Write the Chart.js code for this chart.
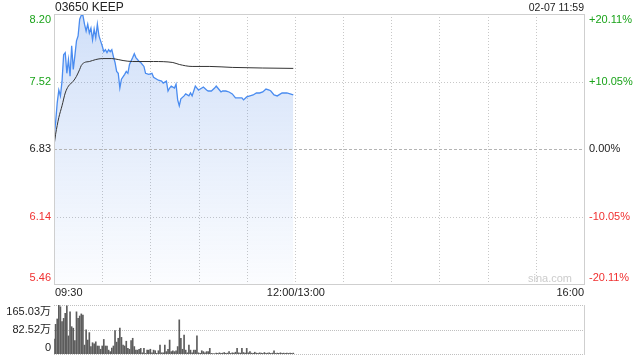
<!DOCTYPE html>
<html>
<head>
<meta charset="utf-8">
<script src="https://cdn.jsdelivr.net/npm/chart.js@4.4.1/dist/chart.umd.min.js"></script>
<style>
html, body { margin: 0; padding: 0; background: #fff; }
#wrap { position: relative; width: 640px; height: 360px; }
#priceChart { position: absolute; left: 0; top: 0; }
#volChart { position: absolute; left: 0; top: 300px; }
</style>
</head>
<body>
<div id="wrap">
  <canvas id="priceChart" width="640" height="300"></canvas>
  <canvas id="volChart" width="640" height="60"></canvas>
</div>
<script>
const title = '03650 KEEP';
const stamp = '02-07 11:59';
const prevClose = 6.83;
const limitPct = 20.11;
const timeLabels = ['09:30', '12:00/13:00', '16:00'];

const priceTimes = ['09:30','09:31','09:32','09:33','09:34','09:35','09:36','09:37','09:38','09:39',
  '09:40','09:41','09:42','09:43','09:44','09:45','09:46','09:47','09:48','09:49',
  '09:50','09:51','09:52','09:53','09:54','09:55','09:56','09:57','09:58','09:59',
  '10:00','10:01','10:02','10:03','10:04','10:05','10:06','10:07','10:08','10:09',
  '10:10','10:11','10:12','10:14','10:15','10:16','10:17','10:19','10:20','10:21',
  '10:23','10:24','10:26','10:27','10:29','10:31','10:32','10:34','10:35','10:37',
  '10:38','10:40','10:41','10:42','10:43','10:45','10:46','10:47','10:48','10:49',
  '10:51','10:52','10:54','10:55','10:56','10:58','10:59','11:00','11:02','11:03',
  '11:05','11:06','11:08','11:10','11:11','11:13','11:14','11:15','11:17','11:19',
  '11:21','11:23','11:25','11:27','11:28','11:30','11:32','11:34','11:36','11:38',
  '11:40','11:42','11:44','11:45','11:47','11:49','11:52','11:55','11:57','11:59'];
const prices = [6.96,7.10,7.30,7.43,7.37,7.52,7.79,7.81,7.60,7.74,
  7.57,7.88,7.64,7.78,7.93,7.98,8.15,8.19,8.19,8.10,
  8.03,8.10,8.01,8.06,7.94,8.05,7.96,8.10,7.98,7.93,
  7.88,7.82,7.84,7.81,7.84,7.82,7.84,7.77,7.71,7.62,
  7.60,7.45,7.54,7.59,7.62,7.60,7.69,7.76,7.80,7.76,
  7.72,7.71,7.67,7.60,7.59,7.60,7.56,7.54,7.53,7.52,
  7.50,7.52,7.42,7.45,7.47,7.45,7.49,7.33,7.27,7.34,
  7.37,7.39,7.37,7.40,7.37,7.47,7.45,7.43,7.45,7.46,
  7.43,7.42,7.42,7.45,7.47,7.43,7.41,7.42,7.42,7.41,
  7.39,7.35,7.35,7.35,7.33,7.36,7.37,7.38,7.40,7.40,
  7.41,7.44,7.43,7.42,7.38,7.37,7.40,7.40,7.39,7.38];

const avgTimes = ['09:30','09:31','09:32','09:33','09:35','09:37','09:39','09:42','09:44','09:46',
  '09:47','09:49','09:52','09:56','10:00','10:06','10:10','10:13','10:19','10:32',
  '10:44','10:48','10:56','11:07','11:21','11:59'];
const avgPrices = [6.86,6.98,7.07,7.15,7.27,7.40,7.47,7.52,7.57,7.64,
  7.68,7.71,7.72,7.74,7.75,7.75,7.74,7.73,7.72,7.72,
  7.71,7.69,7.67,7.67,7.66,7.65];

// volume per minute from 09:30, in 万
const volumes = [50,100,118,165.03,159,109,120,137,162,61,
  142,92,87,45,142,120,128,135,131,30,
  81,47,72,25,38,34,41,27,27,16,
  27,49,27,27,13,8,20,27,79,40,
  53,87,56,30,27,43,19,16,45,53,
  25,13,13,16,19,4,19,2,13,13,
  16,4,13,11,2,11,30,4,4,30,
  8,16,47,8,11,8,11,25,115,53,
  16,64,13,4,30,13,4,13,13,61,
  4,2,11,8,4,8,8,19,2,1,
  1,3,2,4,2,3,5,2,3,8,
  2,4,3,6,19,4,3,19,5,3,
  19,4,8,3,2,6,3,2,4,3,
  2,5,2,3,4,2,3,11,2,3,
  2,4,2,3,2,3,2,3,2,3];
const volMax = 165.03;

const FONT = '"Liberation Sans", Arial, "Noto Sans CJK SC", sans-serif';
const GREEN = '#1aa31a';
const RED = '#f03030';

function toMin(t) {
  const [h, m] = t.split(':').map(Number);
  const mins = h * 60 + m;
  return mins <= 720 ? mins - 570 : mins - 780 + 150;
}

const limitUp = prevClose * (1 + limitPct / 100);
const limitDown = prevClose * (1 - limitPct / 100);
const priceTicks = [limitUp, (limitUp + prevClose) / 2, prevClose, (limitDown + prevClose) / 2, limitDown];
const pctTicks = ['+20.11%', '+10.05%', '0.00%', '-10.05%', '-20.11%'];
const tickColors = [GREEN, GREEN, '#222', RED, RED];

function hline(ctx, x1, x2, y, color, dash) {
  ctx.save();
  ctx.strokeStyle = color;
  ctx.lineWidth = 1;
  ctx.setLineDash(dash);
  ctx.beginPath();
  ctx.moveTo(x1, Math.round(y) + 0.5);
  ctx.lineTo(x2, Math.round(y) + 0.5);
  ctx.stroke();
  ctx.restore();
}
function vline(ctx, x, y1, y2, color, dash) {
  ctx.save();
  ctx.strokeStyle = color;
  ctx.lineWidth = 1;
  ctx.setLineDash(dash);
  ctx.beginPath();
  ctx.moveTo(Math.round(x) + 0.5, y1);
  ctx.lineTo(Math.round(x) + 0.5, y2);
  ctx.stroke();
  ctx.restore();
}

const priceGrid = {
  id: 'priceGrid',
  beforeDatasetsDraw(chart) {
    const { ctx, chartArea: a, scales } = chart;
    for (let m = 30; m < 330; m += 30) {
      vline(ctx, scales.x.getPixelForValue(m), a.top, a.bottom, '#c8c8c8', [1, 2]);
    }
    hline(ctx, a.left, a.right, scales.y.getPixelForValue(priceTicks[1]), '#c8c8c8', [1, 2]);
    hline(ctx, a.left, a.right, scales.y.getPixelForValue(priceTicks[3]), '#c8c8c8', [1, 2]);
  },
  afterDatasetsDraw(chart) {
    const { ctx, chartArea: a, scales } = chart;
    hline(ctx, a.left, a.right, scales.y.getPixelForValue(prevClose), '#b4b4b4', [3, 2]);
    ctx.save();
    ctx.strokeStyle = '#cfcfcf';
    ctx.lineWidth = 1;
    ctx.strokeRect(a.left + 0.5, a.top + 0.5, a.right - a.left, a.bottom - a.top);

    ctx.font = '11px ' + FONT;
    ctx.textBaseline = 'middle';
    priceTicks.forEach((v, i) => {
      let y = scales.y.getPixelForValue(v);
      if (i === 0) y += 6;
      if (i === 4) y -= 6;
      ctx.fillStyle = tickColors[i];
      ctx.textAlign = 'right';
      ctx.fillText(v.toFixed(2), a.left - 3, y);
      ctx.textAlign = 'left';
      ctx.fillText(pctTicks[i], a.right + 5, y);
    });

    ctx.fillStyle = '#222';
    ctx.textAlign = 'left';
    ctx.fillText(timeLabels[0], a.left + 1, 293);
    ctx.textAlign = 'center';
    ctx.fillText(timeLabels[1], scales.x.getPixelForValue(150) + 1, 293);
    ctx.textAlign = 'right';
    ctx.fillText(timeLabels[2], a.right, 293);

    ctx.fillStyle = '#cccccc';
    ctx.textAlign = 'right';
    ctx.fillText('sina.com', a.right - 12, a.bottom - 5);

    ctx.fillStyle = '#222';
    ctx.font = '12px ' + FONT;
    ctx.textAlign = 'left';
    ctx.fillText(title, a.left + 1, 8);
    ctx.font = '10.5px ' + FONT;
    ctx.textAlign = 'right';
    ctx.fillText(stamp, a.right, 8);
    ctx.restore();
  }
};

new Chart(document.getElementById('priceChart'), {
  type: 'line',
  data: {
    datasets: [
      {
        data: avgTimes.map((t, i) => ({ x: toMin(t), y: avgPrices[i] })),
        borderColor: '#333',
        borderWidth: 1,
        pointRadius: 0,
        fill: false,
        cubicInterpolationMode: 'monotone'
      },
      {
        data: priceTimes.map((t, i) => ({ x: toMin(t), y: prices[i] })),
        borderColor: '#4a8cf0',
        borderWidth: 1.3,
        pointRadius: 0,
        fill: 'start',
        backgroundColor: (context) => {
          const { ctx, chartArea } = context.chart;
          if (!chartArea) return 'rgba(70,130,230,0.15)';
          const g = ctx.createLinearGradient(0, chartArea.top, 0, chartArea.bottom);
          g.addColorStop(0, 'rgba(70,130,230,0.25)');
          g.addColorStop(1, 'rgba(70,130,230,0.02)');
          return g;
        }
      }
    ]
  },
  options: {
    responsive: false,
    animation: false,
    layout: { padding: { left: 54, top: 14, right: 56, bottom: 16 } },
    plugins: { legend: { display: false }, tooltip: { enabled: false } },
    scales: {
      x: { type: 'linear', min: 0, max: 330, display: false },
      y: { min: limitDown, max: limitUp, display: false }
    }
  },
  plugins: [priceGrid]
});

const volGrid = {
  id: 'volGrid',
  beforeDatasetsDraw(chart) {
    const { ctx, chartArea: a, scales } = chart;
    [volMax, volMax / 2, 0].forEach(v => {
      hline(ctx, a.left, a.right, scales.y.getPixelForValue(v), '#c0c0c0', [1, 1]);
    });
  },
  afterDatasetsDraw(chart) {
    const { ctx, chartArea: a, scales } = chart;
    vline(ctx, a.right, a.top, a.bottom + 1, '#cfcfcf', []);
    ctx.save();
    ctx.font = '11px ' + FONT;
    ctx.fillStyle = '#222';
    ctx.textAlign = 'right';
    ctx.textBaseline = 'middle';
    ctx.fillText(volMax.toFixed(2) + '万', a.left - 3, scales.y.getPixelForValue(volMax) + 7);
    ctx.fillText((volMax / 2).toFixed(2) + '万', a.left - 3, scales.y.getPixelForValue(volMax / 2));
    ctx.fillText('0', a.left - 3, scales.y.getPixelForValue(0) - 6);
    ctx.restore();
  }
};

new Chart(document.getElementById('volChart'), {
  type: 'bar',
  data: {
    datasets: [{
      data: volumes.map((v, i) => ({ x: i, y: v })),
      backgroundColor: '#5c5c5c',
      barThickness: 1,
      grouped: false
    }]
  },
  options: {
    responsive: false,
    animation: false,
    layout: { padding: { left: 54, top: 5, right: 56, bottom: 6 } },
    plugins: { legend: { display: false }, tooltip: { enabled: false } },
    scales: {
      x: { type: 'linear', min: 0, max: 330, display: false, offset: false },
      y: { min: 0, max: volMax, display: false }
    }
  },
  plugins: [volGrid]
});
</script>
</body>
</html>
